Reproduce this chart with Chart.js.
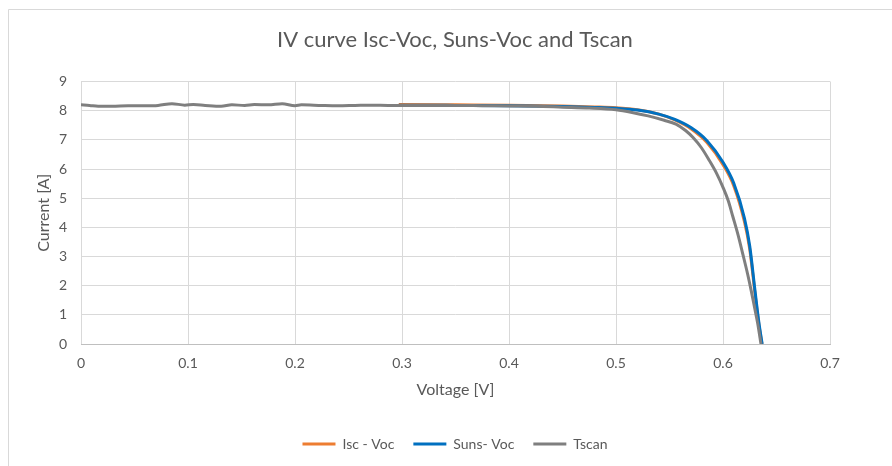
<!DOCTYPE html>
<html>
<head>
<meta charset="utf-8">
<script src="https://cdn.jsdelivr.net/npm/chart.js@4/dist/chart.umd.min.js"></script>
<style>
  html, body { margin: 0; padding: 0; background: #ffffff; }
  #wrap { position: relative; width: 892px; height: 466px; }
</style>
</head>
<body>
<div id="wrap"><canvas id="c" width="892" height="466"></canvas></div>
<script>
// Isc-Voc measurement: voltage [V] and current [A]
const iscVocV = [0.297, 0.35, 0.40, 0.45, 0.48, 0.50, 0.52, 0.54, 0.555, 0.57, 0.585, 0.60, 0.61, 0.62, 0.625, 0.63, 0.6335, 0.6364];
const iscVocI = [8.21, 8.20, 8.19, 8.16, 8.13, 8.10, 8.03, 7.88, 7.68, 7.38, 6.91, 6.15, 5.43, 4.20, 3.25, 1.70, 0.68, 0.00];

// Suns-Voc pseudo IV curve
const sunsVocV = [0.297, 0.35, 0.40, 0.45, 0.48, 0.50, 0.52, 0.54, 0.555, 0.57, 0.585, 0.60, 0.61, 0.62, 0.625, 0.63, 0.6335, 0.6366];
const sunsVocI = [8.19, 8.18, 8.17, 8.14, 8.11, 8.08, 8.02, 7.88, 7.70, 7.42, 6.97, 6.23, 5.52, 4.32, 3.35, 1.80, 0.75, 0.00];

// Tscan full sweep
const tscanV = [0.000, 0.008, 0.016, 0.029, 0.044, 0.060, 0.072, 0.085, 0.097, 0.105, 0.116, 0.131, 0.141, 0.153, 0.162,
                0.175, 0.188, 0.200, 0.206, 0.225, 0.240, 0.256, 0.272, 0.287, 0.300, 0.326, 0.350, 0.375, 0.401, 0.425,
                0.450, 0.475, 0.500, 0.515, 0.530, 0.545, 0.556, 0.565, 0.572, 0.580, 0.5874, 0.594, 0.600, 0.605, 0.6091,
                0.614, 0.6184, 0.623, 0.6263, 0.6295, 0.6324, 0.6355];
const tscanI = [8.20, 8.18, 8.15, 8.15, 8.17, 8.17, 8.18, 8.24, 8.19, 8.21, 8.18, 8.15, 8.20, 8.18, 8.21,
                8.20, 8.24, 8.17, 8.20, 8.18, 8.17, 8.18, 8.19, 8.18, 8.18, 8.18, 8.18, 8.17, 8.16, 8.15,
                8.12, 8.09, 8.03, 7.94, 7.82, 7.67, 7.54, 7.32, 7.08, 6.72, 6.28, 5.85, 5.37, 4.90, 4.38,
                3.75, 3.10, 2.40, 1.84, 1.25, 0.71, 0.00];

// Axis tick labels
const xTicks = [0, 0.1, 0.2, 0.3, 0.4, 0.5, 0.6, 0.7];
const yTicks = [0, 1, 2, 3, 4, 5, 6, 7, 8, 9];

const seriesNames = ['Isc - Voc', 'Suns- Voc', 'Tscan'];
const seriesColors = ['#ED7D31', '#0070C0', '#7F7F7F'];

const toPoints = (xs, ys) => xs.map((x, i) => ({ x: x, y: ys[i] }));

const FONT = "Lato, 'Open Sans', sans-serif";
const TEXT = '#595959';
const GRID = '#d9d9d9';

// Light frame around the chart area
const framePlugin = {
  id: 'frame',
  beforeDraw(chart) {
    const ctx = chart.ctx;
    ctx.save();
    ctx.fillStyle = '#ffffff';
    ctx.fillRect(0, 0, chart.width, chart.height);
    ctx.strokeStyle = GRID;
    ctx.lineWidth = 1;
    ctx.beginPath();
    ctx.moveTo(8.5, chart.height);
    ctx.lineTo(8.5, 9.5);
    ctx.lineTo(chart.width, 9.5);
    ctx.stroke();
    ctx.restore();
  }
};

// Series are layered so that Tscan sits on top and Isc-Voc at the bottom
const mkDataset = (i, pts, order) => ({
  label: seriesNames[i],
  data: pts,
  order: order,
  borderColor: seriesColors[i],
  backgroundColor: seriesColors[i],
  borderWidth: 3,
  pointRadius: 0,
  showLine: true,
  cubicInterpolationMode: 'monotone',
  fill: false
});

new Chart(document.getElementById('c'), {
  type: 'scatter',
  data: {
    datasets: [
      mkDataset(0, toPoints(iscVocV, iscVocI), 3),
      mkDataset(1, toPoints(sunsVocV, sunsVocI), 2),
      mkDataset(2, toPoints(tscanV, tscanI), 1)
    ]
  },
  options: {
    responsive: false,
    animation: false,
    devicePixelRatio: 1,
    layout: { padding: { top: 0, left: 18, right: 0, bottom: 5 } },
    plugins: {
      title: {
        display: true,
        text: 'IV curve Isc-Voc, Suns-Voc and Tscan',
        color: TEXT,
        font: { family: FONT, size: 22, weight: 'normal' },
        padding: { top: 26.8, bottom: 28.3 }
      },
      legend: {
        position: 'bottom',
        labels: {
          color: TEXT,
          font: { family: FONT, size: 14 },
          boxWidth: 33,
          boxHeight: 3,
          padding: 19,
          sort: (a, b) => a.datasetIndex - b.datasetIndex,
          generateLabels(chart) {
            const items = Chart.defaults.plugins.legend.labels.generateLabels(chart);
            items.forEach(it => { it.strokeStyle = 'rgba(0,0,0,0)'; });
            return items;
          }
        }
      },
      tooltip: { enabled: false }
    },
    scales: {
      x: {
        type: 'linear',
        min: 0,
        max: 0.7,
        afterFit(scale) { scale.height = 74; },
        afterBuildTicks(scale) { scale.ticks = xTicks.map(v => ({ value: v })); },
        grid: { color: GRID, lineWidth: 1, drawTicks: false },
        border: { color: '#bfbfbf', width: 1 },
        ticks: {
          color: TEXT,
          font: { family: FONT, size: 14 },
          padding: 11,
          callback: v => String(Math.round(v * 10) / 10)
        },
        title: {
          display: true,
          text: 'Voltage [V]',
          color: TEXT,
          font: { family: FONT, size: 16 },
          padding: { top: 0, bottom: 19 }
        }
      },
      y: {
        type: 'linear',
        min: 0,
        max: 9,
        afterFit(scale) { scale.width = 63; },
        afterBuildTicks(scale) { scale.ticks = yTicks.map(v => ({ value: v })); },
        grid: { color: GRID, lineWidth: 1, drawTicks: false },
        border: { display: false },
        ticks: {
          color: TEXT,
          font: { family: FONT, size: 14 },
          padding: 14,
          callback: v => String(v)
        },
        title: {
          display: true,
          text: 'Current [A]',
          color: TEXT,
          font: { family: FONT, size: 16 },
          padding: { top: 16, bottom: 0 }
        }
      },
      // empty right-hand margin keeps the plot clear of the frame edge
      gutter: {
        type: 'linear',
        position: 'right',
        display: true,
        afterFit(scale) { scale.width = 62; },
        grid: { display: false, drawTicks: false },
        border: { display: false },
        ticks: { display: false },
        title: { display: false }
      }
    }
  },
  plugins: [framePlugin]
});
</script>
</body>
</html>
